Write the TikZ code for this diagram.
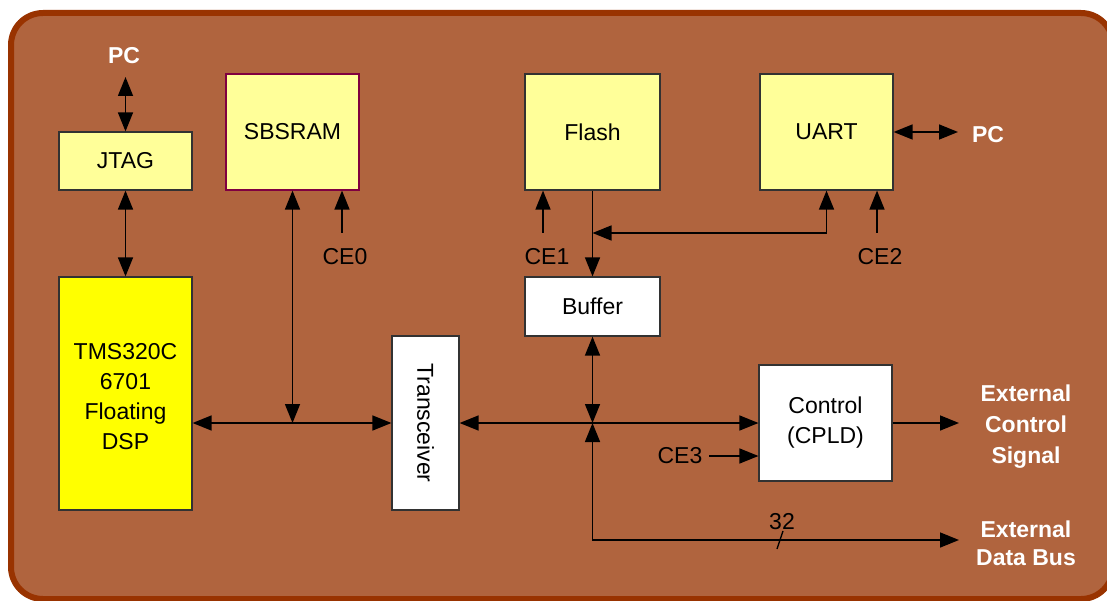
\documentclass[tikz,border=0pt]{standalone}
\usepackage{fontspec}
\setmainfont{Liberation Sans}
\usetikzlibrary{arrows.meta}
\definecolor{bgfill}{RGB}{176,100,62}
\definecolor{bgline}{RGB}{153,51,0}
\definecolor{boxy}{RGB}{255,255,153}
\definecolor{dspy}{RGB}{255,255,0}
\definecolor{sbline}{RGB}{128,0,64}
\definecolor{boxline}{RGB}{50,50,50}
\newcommand{\bxfont}{\fontsize{23}{30}\selectfont}
\tikzset{
  blk/.style={draw=boxline, line width=1.2pt, inner sep=0pt, align=center, font=\bxfont, text=black},
  lbl/.style={inner sep=0pt, align=center, font=\bxfont, text=black},
  wlbl/.style={inner sep=0pt, align=center, font=\bxfont\bfseries, text=white},
  conn/.style={line width=1.5pt, draw=black},
  >={Triangle[length=19pt,width=15pt]}
}
\begin{document}
\begin{tikzpicture}[x=1pt,y=-1pt]
\useasboundingbox (0,0) rectangle (1107,601);
\draw[bgline, line width=6pt, fill=bgfill, rounded corners=32pt] (11,13) rectangle (1113,599);

% boxes
\node[blk, fill=boxy, minimum width=133pt, minimum height=58pt] (jtag) at (125.5,161) {JTAG};
\node[blk, fill=boxy, draw=sbline, minimum width=133pt, minimum height=116pt] (sbsram) at (292.5,132) {SBSRAM};
\node[blk, fill=dspy, minimum width=133pt, minimum height=233pt] (dsp) at (125.5,393.5) {};
\node[lbl] (dspt) at ([yshift=-3pt]dsp.center) {TMS320C\\6701\\Floating\\DSP};
\node[blk, fill=white, minimum width=67pt, minimum height=174pt] (trx) at (425.5,423) {};
\node[lbl, rotate=-90] (trxt) at (trx.center) {Transceiver};
\node[blk, fill=boxy, minimum width=135pt, minimum height=116pt] (flash) at (592.5,132) {Flash};
\node[blk, fill=boxy, minimum width=133pt, minimum height=116pt] (uart) at (826.5,132) {UART};
\node[blk, fill=white, minimum width=135pt, minimum height=59pt] (buffer) at (592.5,306.5) {Buffer};
\node[blk, fill=white, minimum width=133pt, minimum height=116pt] (ctrl) at (825.5,423) {Control\\(CPLD)};

% labels
\node[wlbl] (pcT) at (124,56) {PC};
\node[wlbl] (pcR) at (988,135) {PC};
\node[lbl] (ce0) at (345,257) {CE0};
\node[lbl] (ce1) at (547,257) {CE1};
\node[lbl] (ce2) at (880,257) {CE2};
\node[lbl] (ce3) at (680,456) {CE3};
\node[lbl] (n32) at (782,522) {32};
\node[wlbl, font=\fontsize{23}{31}\selectfont\bfseries] (extC) at (1026,427) {External\\Control\\Signal};
\node[wlbl, font=\fontsize{23}{28}\selectfont\bfseries] (extD) at (1026,543) {External\\Data Bus};

% coordinates
\coordinate (pcA) at (125.5,77);
\coordinate (j1) at (292.5,423);
\coordinate (j2) at (592.5,423);
\coordinate (m1) at (592.5,233);
\coordinate (db) at (592.5,540);
\coordinate (dbEnd) at (959,540);
\coordinate (ecEnd) at (959,423);
\coordinate (pcEnd) at (958,132);
\coordinate (sl) at (780,540);
\coordinate (ce0a) at (342,233);
\coordinate (ce1a) at (543,233);
\coordinate (ce2a) at (877,233);
\coordinate (ce3a) at (709,456);

% connectors
\draw[conn,<->] (pcA) -- (jtag.north);
\draw[conn,<->] (jtag.south) -- (dsp.north);
\draw[conn,<->] (dsp.east |- j1) -- (trx.west |- j1);
\draw[conn,<->] (sbsram.south) -- (j1);
\draw[conn,->] (ce0a) -- (ce0a |- sbsram.south);
\draw[conn,<->] (trx.east |- j2) -- (ctrl.west |- j2);
\draw[conn,->] (flash.south) -- (buffer.north);
\draw[conn,->] (ce1a) -- (ce1a |- flash.south);
\draw[conn,<->] (m1) -- (m1 -| uart.south) -- (uart.south);
\draw[conn,->] (ce2a) -- (ce2a |- uart.south);
\draw[conn,<->] (uart.east) -- (pcEnd);
\draw[conn,<->] (buffer.south) -- (j2);
\draw[conn,<->] (j2) -- (db) -- (dbEnd);
\draw[line width=1.3pt] ([shift={(-3,9)}]sl) -- ([shift={(3,-9)}]sl);
\draw[conn,->] (ctrl.east |- ecEnd) -- (ecEnd);
\draw[conn,->] (ce3a) -- (ctrl.west |- ce3a);
\end{tikzpicture}
\end{document}
